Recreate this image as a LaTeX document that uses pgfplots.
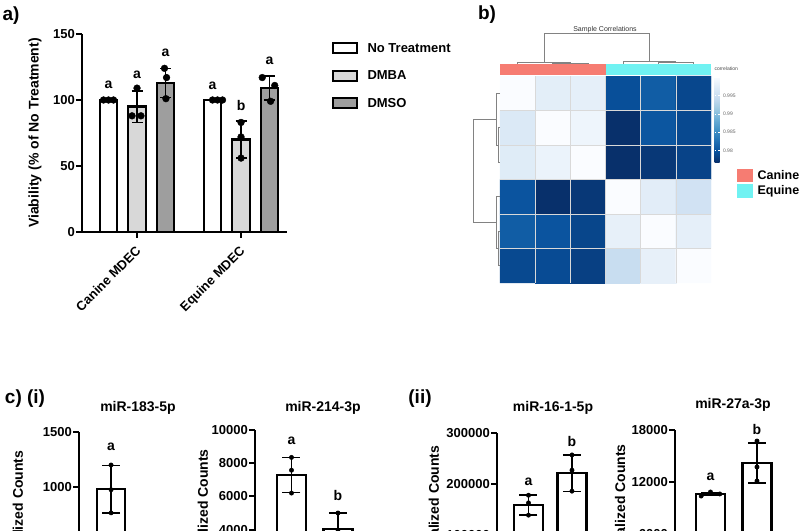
\documentclass[border=0pt]{standalone}
\usepackage{pgfplots}
\pgfplotsset{compat=1.18}
\usepackage{fontspec}
\setmainfont{Liberation Sans}
\definecolor{dmba}{RGB}{216,216,216}
\definecolor{dmso}{RGB}{158,158,158}
\definecolor{canine}{RGB}{246,124,114}
\definecolor{equine}{RGB}{112,242,242}
\definecolor{dendro}{RGB}{130,130,130}
\newcommand{\fs}[1]{\fontsize{#1}{#1}\selectfont}
\pgfplotsset{
  barax/.style={scale only axis, clip=false,
    axis x line*=bottom, axis y line*=left,
    axis line style={line width=2pt, -},
    tick align=outside, major tick length=6pt,
    tick style={line width=2pt, black},
    /pgf/number format/assume math mode=true,
    /pgf/number format/fixed,
    /pgf/number format/precision=0,
    /pgf/number format/1000 sep={},
    scaled y ticks=false,
    tick label style={font=\bfseries\fs{13}},
    yticklabel style={inner xsep=1pt},
    ylabel style={font=\bfseries\fs{14}, anchor=center},
  },
  mybar/.style={ybar, bar shift=0pt, draw=black, line width=2.4pt,
    /pgfplots/legend image code/.code={\draw[##1, line width=2.2pt] (0pt,-5pt) rectangle (24pt,5pt); \path (31pt,0pt);}},
  errs/.style={error bars/.cd, y dir=both, y explicit,
     error bar style={line width=1.5pt, black},
     error mark options={rotate=90, mark size=#1, line width=1.5pt, black}},
  dots/.style={only marks, mark=*, mark size=#1, black, forget plot},
}
\begin{document}
\begin{tikzpicture}
\useasboundingbox (0,0) rectangle (800pt,530pt);
\clip (0,0) rectangle (800pt,530pt);

% ---------------- panel a
\node[font=\bfseries\fs{19}] at (11pt,514pt) {a)};
\begin{axis}[barax, at={(82pt,298pt)}, anchor=south west,
  width=205pt, height=198pt,
  xmin=-0.529, xmax=1.442, ymin=0, ymax=150,
  ytick={0,50,100,150}, xtick={0,1},
  xticklabels={Canine MDEC, Equine MDEC},
  xticklabel style={rotate=45, anchor=north east, font=\bfseries\fs{13}, xshift=-3pt},
  ylabel={Viability (\% of No Treatment)},
  ylabel style={at={(axis description cs:-0.229,0.5)}},
  legend style={at={(1.205,0.975)}, anchor=north west, draw=none, fill=none,
    font=\bfseries\fs{13}, row sep=13pt},
  legend cell align=left,
]
\addplot[mybar, bar width=17.5pt, fill=white, errs=5.5pt]
  table[x=x, y=y, y error=e] {
x y e
-0.274 100 0
0.726 100 0
};
\addlegendentry{No Treatment}
\addplot[mybar, bar width=17.5pt, fill=dmba, errs=5.5pt]
  table[x=x, y=y, y error=e] {
x y e
0 95 12
1 70 14
};
\addlegendentry{DMBA}
\addplot[mybar, bar width=17.5pt, fill=dmso, errs=5.5pt]
  table[x=x, y=y, y error=e] {
x y e
0.274 113 11
1.274 109 9
};
\addlegendentry{DMSO}
\addplot[dots=3.4pt] table {
x y
-0.322 100
-0.274 100
-0.226 100
0 109
-0.048 88
0.038 88
0.264 124
0.284 117
0.278 101
0.726 100
0.774 100
0.822 100
1 83
1 72
1 56
1.204 117
1.324 111
1.284 99
};
\node[font=\bfseries\fs{14}] at (axis cs:-0.274,111.4) {a};
\node[font=\bfseries\fs{14}] at (axis cs:0,118.9) {a};
\node[font=\bfseries\fs{14}] at (axis cs:0.274,135.6) {a};
\node[font=\bfseries\fs{14}] at (axis cs:0.726,110.6) {a};
\node[font=\bfseries\fs{14}] at (axis cs:1,96.2) {b};
\node[font=\bfseries\fs{14}] at (axis cs:1.274,129.5) {a};
\end{axis}

% ---------------- panel b
\node[font=\bfseries\fs{19}] at (487pt,515pt) {b)};
\node[font=\fs{7}, text=black!80] at (605pt,500pt) {Sample Correlations};
\begin{axis}[at={(500pt,247pt)}, anchor=south west, scale only axis,
  width=211pt, height=207pt, xmin=0, xmax=6, ymin=0, ymax=6, clip=false,
  hide axis,
  colormap={blues}{rgb255=(8,48,107) rgb255=(8,81,156) rgb255=(33,113,181)
    rgb255=(66,146,198) rgb255=(107,174,214) rgb255=(158,202,225)
    rgb255=(198,219,239) rgb255=(222,235,247) rgb255=(250,252,255)},
  point meta min=0.9768, point meta max=1,
  colorbar,
  colorbar style={at={(parent axis.north east)}, anchor=north west,
    xshift=-5pt, yshift=-1pt, scale only axis, width=5pt, height=85pt,
    ytick={0.98,0.985,0.99,0.995},
    yticklabel style={font=\fs{5}, text=black!60,
      /pgf/number format/fixed,
      /pgf/number format/precision=3,
      /pgf/number format/assume math mode=true},
    major tick length=1.5pt, tick style={draw=white},
    axis line style={draw=none}},
]
\addplot[matrix plot*, mesh/cols=6, point meta=explicit] table[meta=c] {
x y c
0.5 0.5 0.9790
1.5 0.5 0.9792
2.5 0.5 0.9782
3.5 0.5 0.9945
4.5 0.5 0.9980
5.5 0.5 1.0000
0.5 1.5 0.9808
1.5 1.5 0.9800
2.5 1.5 0.9787
3.5 1.5 0.9980
4.5 1.5 1.0000
5.5 1.5 0.9978
0.5 2.5 0.9800
1.5 2.5 0.9768
2.5 2.5 0.9775
3.5 2.5 1.0000
4.5 2.5 0.9975
5.5 2.5 0.9955
0.5 3.5 0.9972
1.5 3.5 0.9985
2.5 3.5 1.0000
3.5 3.5 0.9768
4.5 3.5 0.9775
5.5 3.5 0.9785
0.5 4.5 0.9968
1.5 4.5 1.0000
2.5 4.5 0.9988
3.5 4.5 0.9768
4.5 4.5 0.9802
5.5 4.5 0.9790
0.5 5.5 1.0000
1.5 5.5 0.9976
2.5 5.5 0.9978
3.5 5.5 0.9795
4.5 5.5 0.9808
5.5 5.5 0.9788
};
\draw[gray!30, line width=0.6pt]
  (axis cs:1,0) -- (axis cs:1,6) (axis cs:2,0) -- (axis cs:2,6)
  (axis cs:3,0) -- (axis cs:3,6) (axis cs:4,0) -- (axis cs:4,6)
  (axis cs:5,0) -- (axis cs:5,6)
  (axis cs:0,1) -- (axis cs:6,1) (axis cs:0,2) -- (axis cs:6,2)
  (axis cs:0,3) -- (axis cs:6,3) (axis cs:0,4) -- (axis cs:6,4)
  (axis cs:0,5) -- (axis cs:6,5);
\fill[canine] (axis cs:0,6.03) rectangle (axis cs:3,6.35);
\fill[equine] (axis cs:3,6.03) rectangle (axis cs:6,6.35);
% column dendrogram
\draw[dendro, line width=0.7pt]
  (axis cs:1.25,6.406) -- (axis cs:1.25,7.246) -- (axis cs:4.25,7.246) -- (axis cs:4.25,6.435)
  (axis cs:0.5,6.35) -- (axis cs:0.5,6.406) -- (axis cs:2.0,6.406) -- (axis cs:2.0,6.37)
  (axis cs:1.5,6.35) -- (axis cs:1.5,6.37) -- (axis cs:2.5,6.37) -- (axis cs:2.5,6.35)
  (axis cs:3.5,6.35) -- (axis cs:3.5,6.435) -- (axis cs:5.0,6.435) -- (axis cs:5.0,6.39)
  (axis cs:4.5,6.35) -- (axis cs:4.5,6.39) -- (axis cs:5.5,6.39) -- (axis cs:5.5,6.35);
% row dendrogram
\draw[dendro, line width=0.7pt]
  (axis cs:-0.114,4.75) -- (axis cs:-0.768,4.75) -- (axis cs:-0.768,1.75) -- (axis cs:-0.114,1.75)
  (axis cs:0,5.5) -- (axis cs:-0.114,5.5) -- (axis cs:-0.114,4.0) -- (axis cs:-0.06,4.0)
  (axis cs:0,4.5) -- (axis cs:-0.06,4.5) -- (axis cs:-0.06,3.5) -- (axis cs:0,3.5)
  (axis cs:0,2.5) -- (axis cs:-0.114,2.5) -- (axis cs:-0.114,1.0) -- (axis cs:-0.06,1.0)
  (axis cs:0,1.5) -- (axis cs:-0.06,1.5) -- (axis cs:-0.06,0.5) -- (axis cs:0,0.5);
\end{axis}
\node[font=\fs{5}, text=black!70, anchor=west] at (711pt,461pt) {correlation};
\fill[canine] (737pt,348pt) rectangle (753pt,361pt);
\fill[equine] (737pt,332pt) rectangle (753pt,346pt);
\node[font=\bfseries\fs{12.5}, anchor=west] at (754pt,355pt) {Canine};
\node[font=\bfseries\fs{12.5}, anchor=west] at (754pt,339pt) {Equine};

% ---------------- panel c
\node[font=\bfseries\fs{19}] at (25pt,131pt) {c) (i)};
\node[font=\bfseries\fs{19}] at (420pt,131pt) {(ii)};
\node[font=\bfseries\fs{14}] at (138pt,122pt) {miR-183-5p};
\node[font=\bfseries\fs{14}] at (323pt,122pt) {miR-214-3p};
\node[font=\bfseries\fs{14}] at (553pt,122pt) {miR-16-1-5p};
\node[font=\bfseries\fs{14}] at (733pt,125pt) {miR-27a-3p};

% c1
\begin{axis}[barax, at={(79pt,-67pt)}, anchor=south west,
  width=110pt, height=165pt, xmin=-0.7, xmax=1.7, ymin=0, ymax=1500,
  ytick={0,500,1000,1500}, xtick={0,1}, xticklabels={},
  ylabel={Normalized Counts},
  ylabel style={at={(axis description cs:-0.555,0.5)}}]
\addplot[mybar, bar width=28pt, fill=white, errs=9pt] table[x=x, y=y, y error=e] {
x y e
0 980 215
1 250 60
};
\addplot[dots=2.2pt] table {
x y
0 1200
0 975
0 765
1 310
1 250
1 190
};
\node[font=\bfseries\fs{14}] at (axis cs:0,1364) {a};
\node[font=\bfseries\fs{14}] at (axis cs:1,420) {b};
\end{axis}

% c2
\begin{axis}[barax, at={(255pt,-66pt)}, anchor=south west,
  width=110pt, height=166pt, xmin=-0.785, xmax=1.581, ymin=0, ymax=10000,
  ytick={0,2000,4000,6000,8000,10000}, xtick={0,1}, xticklabels={},
  ylabel={Normalized Counts},
  ylabel style={at={(axis description cs:-0.473,0.5)}}]
\addplot[mybar, bar width=29pt, fill=white, errs=9pt] table[x=x, y=y, y error=e] {
x y e
0 7300 1050
1 4050 950
};
\addplot[dots=2.2pt] table {
x y
0 8350
0 7580
0 6200
1 5000
1 3900
1 3250
};
\node[font=\bfseries\fs{14}] at (axis cs:0,9337) {a};
\node[font=\bfseries\fs{14}] at (axis cs:1,6084) {b};
\end{axis}

% c3
\begin{axis}[barax, at={(497pt,-56pt)}, anchor=south west,
  width=110pt, height=153pt, xmin=-0.724, xmax=1.805, ymin=0, ymax=300000,
  ytick={0,100000,200000,300000}, xtick={0,1}, xticklabels={},
  ylabel={Normalized Counts},
  ylabel style={at={(axis description cs:-0.573,0.5)}}]
\addplot[mybar, bar width=29pt, fill=white, errs=9pt] table[x=x, y=y, y error=e] {
x y e
0 159000 19500
1 221000 35500
};
\addplot[dots=2.2pt] table {
x y
0 178000
0 163000
0 139000
1 257000
1 227000
1 186000
};
\node[font=\bfseries\fs{14}] at (axis cs:0,203900) {a};
\node[font=\bfseries\fs{14}] at (axis cs:1,284300) {b};
\end{axis}

% c4
\begin{axis}[barax, at={(675pt,-56pt)}, anchor=south west,
  width=110pt, height=156pt, xmin=-0.763, xmax=1.603, ymin=0, ymax=18000,
  ytick={0,6000,12000,18000}, xtick={0,1}, xticklabels={},
  ylabel={Normalized Counts},
  ylabel style={at={(axis description cs:-0.5,0.5)}}]
\addplot[mybar, bar width=29pt, fill=white, errs=9pt] table[x=x, y=y, y error=e] {
x y e
0 10620 150
1 14190 2300
};
\addplot[dots=2.2pt] table {
x y
-0.2 10380
0 10850
0.2 10620
1 16730
1 13730
1 12115
};
\node[font=\bfseries\fs{14}] at (axis cs:0,12577) {a};
\node[font=\bfseries\fs{14}] at (axis cs:1,18115) {b};
\end{axis}
\end{tikzpicture}
\end{document}
